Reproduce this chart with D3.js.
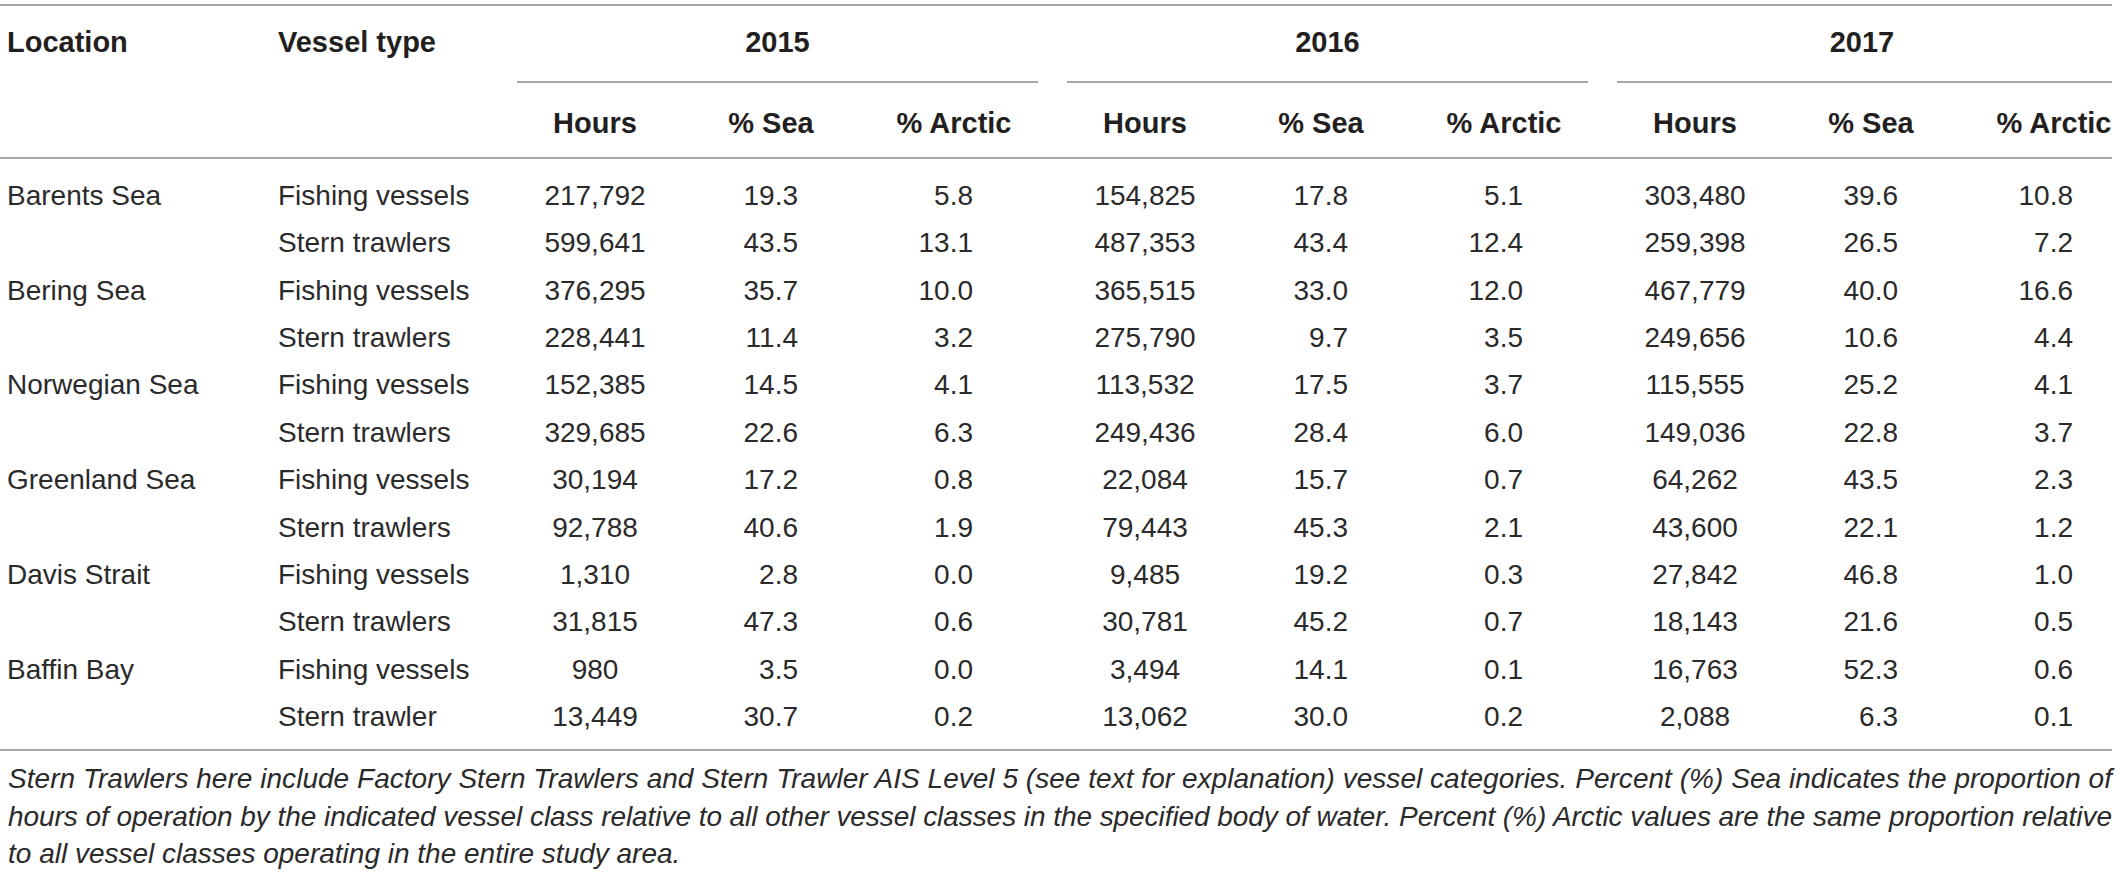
<!DOCTYPE html>
<html>
<head>
<meta charset="utf-8">
<script src="https://cdn.jsdelivr.net/npm/d3@7"></script>
<style>
  html, body { margin: 0; padding: 0; background: #fff; }
  svg text { font-family: "Liberation Sans", Arial, Helvetica, sans-serif; fill: #2b2a2a; }
  .hd { font-weight: bold; font-size: 29px; fill: #231f20; }
  .cell { font-size: 28px; }
  .note { font-size: 28px; font-style: italic; }
  .rule { stroke: #888; stroke-width: 1.5; }
</style>
</head>
<body>
<div id="table"></div>
<script>
var years = ["2015", "2016", "2017"];
var subCols = ["Hours", "% Sea", "% Arctic"];
var locations = ["Barents Sea", "Bering Sea", "Norwegian Sea", "Greenland Sea", "Davis Strait", "Baffin Bay"];
var vesselTypes = ["Fishing vessels", "Stern trawlers", "Fishing vessels", "Stern trawlers",
    "Fishing vessels", "Stern trawlers", "Fishing vessels", "Stern trawlers",
    "Fishing vessels", "Stern trawlers", "Fishing vessels", "Stern trawler"];

var hours2015 = [217792, 599641, 376295, 228441, 152385, 329685, 30194, 92788, 1310, 31815, 980, 13449];
var sea2015 = [19.3, 43.5, 35.7, 11.4, 14.5, 22.6, 17.2, 40.6, 2.8, 47.3, 3.5, 30.7];
var arctic2015 = [5.8, 13.1, 10.0, 3.2, 4.1, 6.3, 0.8, 1.9, 0.0, 0.6, 0.0, 0.2];
var hours2016 = [154825, 487353, 365515, 275790, 113532, 249436, 22084, 79443, 9485, 30781, 3494, 13062];
var sea2016 = [17.8, 43.4, 33.0, 9.7, 17.5, 28.4, 15.7, 45.3, 19.2, 45.2, 14.1, 30.0];
var arctic2016 = [5.1, 12.4, 12.0, 3.5, 3.7, 6.0, 0.7, 2.1, 0.3, 0.7, 0.1, 0.2];
var hours2017 = [303480, 259398, 467779, 249656, 115555, 149036, 64262, 43600, 27842, 18143, 16763, 2088];
var sea2017 = [39.6, 26.5, 40.0, 10.6, 25.2, 22.8, 43.5, 22.1, 46.8, 21.6, 52.3, 6.3];
var arctic2017 = [10.8, 7.2, 16.6, 4.4, 4.1, 3.7, 2.3, 1.2, 1.0, 0.5, 0.6, 0.1];

var noteLines = [
    "Stern Trawlers here include Factory Stern Trawlers and Stern Trawler AIS Level 5 (see text for explanation) vessel categories. Percent (%) Sea indicates the proportion of",
    "hours of operation by the indicated vessel class relative to all other vessel classes in the specified body of water. Percent (%) Arctic values are the same proportion relative",
    "to all vessel classes operating in the entire study area."
];

var W = 2121, H = 873, right = 2112;

var svg = d3.select("#table").append("svg")
    .attr("width", W)
    .attr("height", H);

var columns = {
    "2015": [hours2015, sea2015, arctic2015],
    "2016": [hours2016, sea2016, arctic2016],
    "2017": [hours2017, sea2017, arctic2017]
};

// year groups across the page
var xGroup = d3.scaleBand().domain(years).range([517, 2138]).paddingInner(29 / 550);
// header centre and value anchor inside a group
var subHead = d3.scaleOrdinal().domain(subCols).range([78, 254, 437]);
var subVal = d3.scaleOrdinal().domain(subCols).range([78, 281, 456]);
var subAnchor = d3.scaleOrdinal().domain(subCols).range(["middle", "end", "end"]);
var subFmt = [d3.format(","), d3.format(".1f"), d3.format(".1f")];

var yRow = d3.scalePoint().domain(d3.range(vesselTypes.length)).range([205, 726]);
var yNote = d3.scalePoint().domain(d3.range(noteLines.length)).range([788, 863]);

// rules
[5, 158, 750].forEach(function(y) {
    svg.append("line").attr("class", "rule")
        .attr("x1", 0).attr("x2", right).attr("y1", y).attr("y2", y);
});
svg.selectAll("line.grp")
    .data(years).enter().append("line")
    .attr("class", "rule grp")
    .attr("x1", (d) => xGroup(d))
    .attr("x2", (d) => Math.min(xGroup(d) + xGroup.bandwidth(), right))
    .attr("y1", 82).attr("y2", 82);

// headers
svg.append("text").attr("class", "hd").attr("x", 7).attr("y", 52).text("Location");
svg.append("text").attr("class", "hd").attr("x", 278).attr("y", 52).text("Vessel type");
svg.selectAll("text.yr")
    .data(years).enter().append("text")
    .attr("class", "hd yr")
    .attr("text-anchor", "middle")
    .attr("x", (d) => xGroup(d) + (d === "2017" ? 245 : xGroup.bandwidth() / 2))
    .attr("y", 52)
    .text((d) => d);

years.forEach(function(yr) {
    var g = svg.append("g");
    g.selectAll("text.sub")
        .data(subCols).enter().append("text")
        .attr("class", "hd sub")
        .attr("text-anchor", "middle")
        .attr("x", (d) => xGroup(yr) + subHead(d))
        .attr("y", 133)
        .text((d) => d);

    subCols.forEach(function(c, ci) {
        g.selectAll("text.v" + ci)
            .data(columns[yr][ci]).enter().append("text")
            .attr("class", "cell v" + ci)
            .attr("text-anchor", subAnchor(c))
            .attr("x", xGroup(yr) + subVal(c))
            .attr("y", (d, i) => yRow(i))
            .text((d) => subFmt[ci](d));
    });
});

// row labels
svg.selectAll("text.loc")
    .data(locations).enter().append("text")
    .attr("class", "cell loc")
    .attr("x", 7)
    .attr("y", (d, i) => yRow(i * 2))
    .text((d) => d);
svg.selectAll("text.vt")
    .data(vesselTypes).enter().append("text")
    .attr("class", "cell vt")
    .attr("x", 278)
    .attr("y", (d, i) => yRow(i))
    .text((d) => d);

// footnote, first two lines justified
svg.selectAll("text.note")
    .data(noteLines).enter().append("text")
    .attr("class", "note")
    .attr("x", 8)
    .attr("y", (d, i) => yNote(i))
    .each(function(d, i) {
        if (i < noteLines.length - 1) {
            d3.select(this).attr("textLength", right - 8).attr("lengthAdjust", "spacing");
        }
    })
    .text((d) => d);
</script>
</body>
</html>
